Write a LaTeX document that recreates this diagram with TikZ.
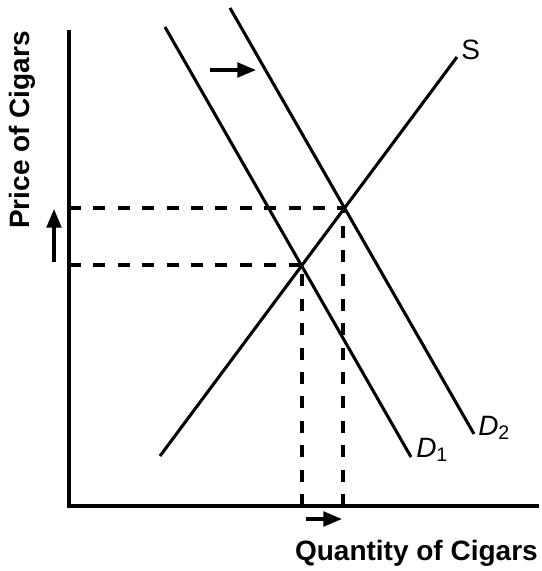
\documentclass[tikz,border=0pt]{standalone}
\usepackage{fontspec}
\setmainfont{Liberation Sans}
\usetikzlibrary{arrows.meta}
\begin{document}
\begin{tikzpicture}[x=0.75pt,y=-0.75pt,
  axis/.style={line width=3pt},
  curve/.style={line width=2.3pt},
  guide/.style={line width=2.5pt,dash pattern=on 9pt off 9.3pt},
  shiftarrow/.style={line width=2.5pt,-{Triangle[length=14pt,width=11pt]}},
  lbl/.style={font=\fontsize{21}{24}\selectfont\bfseries,inner sep=0pt},
  curvelbl/.style={font=\fontsize{21}{24}\selectfont,inner sep=0pt}]
\useasboundingbox (0,0) rectangle (542,571);
% curves
\coordinate (s0) at (160,456);
\coordinate (s1) at (457,57);
\coordinate (d10) at (165,27);
\coordinate (d11) at (411,457);
\coordinate (d20) at (230,8);
\coordinate (d21) at (474,434);
\draw[curve] (s0) -- (s1);
\draw[curve] (d10) -- (d11);
\draw[curve] (d20) -- (d21);
% equilibria
\coordinate (e1) at (302,265);
\coordinate (e2) at (343,208);
\coordinate (p1) at (69,265);
\coordinate (p2) at (69,208);
\coordinate (q1) at (302,506);
\coordinate (q2) at (343,506);
\draw[guide] (p1) -- (e1);
\draw[guide] (q1) -- (e1);
\draw[guide] (p2) -- (e2);
\draw[guide] (q2) -- (e2);
% axes
\coordinate (top) at (69,32);
\coordinate (origin) at (69,506);
\coordinate (right) at (537,506);
\draw[axis,line cap=rect] (top) -- (origin) -- (right);
% labels
\node[curvelbl,anchor=south west] (slab) at (461,60) {S};
\node[curvelbl,anchor=south west] (d1lab) at (416,462) {\itshape D\textsubscript{\upshape 1}};
\node[curvelbl,anchor=south west] (d2lab) at (478,440) {\itshape D\textsubscript{\upshape 2}};
% shift arrows
\coordinate (a0) at (210,70);
\coordinate (a1) at (256,70);
\draw[shiftarrow] (a0) -- (a1);
\coordinate (b0) at (306,519);
\coordinate (b1) at (342,519);
\draw[shiftarrow] (b0) -- (b1);
\coordinate (c0) at (54,262);
\coordinate (c1) at (54,209);
\draw[shiftarrow] (c0) -- (c1);
% axis titles
\node[lbl,anchor=east] (qlab) at (538,553) {Quantity of Cigars};
\node[lbl,rotate=90] (plab) at (22,130) {Price of Cigars};
\end{tikzpicture}
\end{document}
